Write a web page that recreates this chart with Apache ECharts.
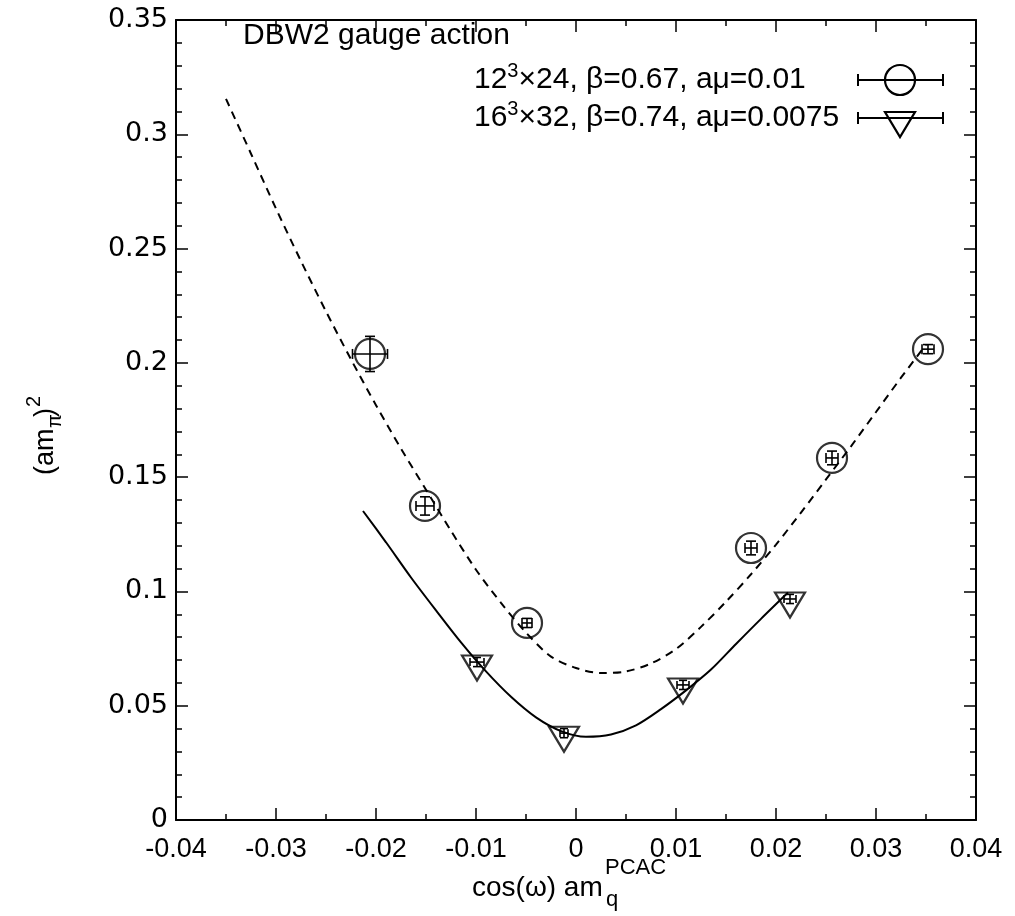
<!DOCTYPE html>
<html>
<head>
<meta charset="utf-8">
<script src="https://cdn.jsdelivr.net/npm/echarts@6/dist/echarts.min.js"></script>
<style>html,body{margin:0;padding:0;background:#fff;}#chart{width:1015px;height:916px;}</style>
</head>
<body>
<div id="chart"></div>
<script>
// ---- data ----
const xTicks = [-0.04, -0.03, -0.02, -0.01, 0, 0.01, 0.02, 0.03, 0.04];
const yTicks = [0, 0.05, 0.1, 0.15, 0.2, 0.25, 0.3, 0.35];

// 12^3x24, beta=0.67, amu=0.01 : x, y, xerr, yerr
const circX    = [-0.0206, -0.0151, -0.0049, 0.0175, 0.0256, 0.0352];
const circY    = [0.2039, 0.1374, 0.0862, 0.1190, 0.1584, 0.2060];
const circXErr = [0.00175, 0.0009, 0.0005, 0.0006, 0.0006, 0.0006];
const circYErr = [0.0077, 0.0040, 0.0020, 0.0030, 0.0030, 0.0020];

// 16^3x32, beta=0.74, amu=0.0075
const triX    = [-0.0099, -0.0012, 0.0107, 0.0214];
const triY    = [0.0691, 0.0380, 0.0591, 0.0967];
const triXErr = [0.0007, 0.0004, 0.0006, 0.0006];
const triYErr = [0.0020, 0.0020, 0.0020, 0.0020];

// fit curves
const fitDashX = [-0.035, -0.0325, -0.03, -0.0275, -0.025, -0.0225, -0.02, -0.0175, -0.015, -0.0125, -0.01, -0.0075, -0.005, -0.0025, 0, 0.0025, 0.005, 0.0075, 0.01, 0.0125, 0.015, 0.0175, 0.02, 0.0225, 0.025, 0.0275, 0.03, 0.0325, 0.035];
const fitDashY = [0.3155, 0.2915, 0.2675, 0.2445, 0.2225, 0.2015, 0.1815, 0.1625, 0.1445, 0.1265, 0.1095, 0.0950, 0.0820, 0.0715, 0.0665, 0.0643, 0.0650, 0.0685, 0.0748, 0.0845, 0.0955, 0.1075, 0.1205, 0.1345, 0.1490, 0.1635, 0.1785, 0.1935, 0.2080];

const fitSolidX = [-0.0213, -0.019, -0.0165, -0.014, -0.0115, -0.009, -0.0065, -0.004, -0.0015, 0.001, 0.0035, 0.006, 0.0085, 0.011, 0.0135, 0.016, 0.0185, 0.0212];
const fitSolidY = [0.1352, 0.1215, 0.1061, 0.0917, 0.0777, 0.0650, 0.0539, 0.0449, 0.0389, 0.0364, 0.0374, 0.0414, 0.0485, 0.0567, 0.0658, 0.0770, 0.0880, 0.0995];

// ---- build ----
const zip = (a, b) => a.map((v, i) => [v, b[i]]);
const circData = circX.map((v, i) => [v, circY[i], circXErr[i], circYErr[i]]);
const triData = triX.map((v, i) => [v, triY[i], triXErr[i], triYErr[i]]);

function errRender(cap) {
  return function (params, api) {
    const x = api.value(0), y = api.value(1), ex = api.value(2), ey = api.value(3);
    const l = api.coord([x - ex, y]), r = api.coord([x + ex, y]);
    const t = api.coord([x, y + ey]), b = api.coord([x, y - ey]);
    const st = { stroke: '#000', lineWidth: 1.6 };
    const c = cap;
    return {
      type: 'group',
      children: [
        { type: 'line', shape: { x1: l[0], y1: l[1], x2: r[0], y2: r[1] }, style: st },
        { type: 'line', shape: { x1: t[0], y1: t[1], x2: b[0], y2: b[1] }, style: st },
        { type: 'line', shape: { x1: l[0], y1: l[1] - c, x2: l[0], y2: l[1] + c }, style: st },
        { type: 'line', shape: { x1: r[0], y1: r[1] - c, x2: r[0], y2: r[1] + c }, style: st },
        { type: 'line', shape: { x1: t[0] - c, y1: t[1], x2: t[0] + c, y2: t[1] }, style: st },
        { type: 'line', shape: { x1: b[0] - c, y1: b[1], x2: b[0] + c, y2: b[1] }, style: st }
      ]
    };
  };
}

const triPath = 'path://M0,0 L30,0 L15,25 Z';
const FONT = "'Liberation Sans', Arial, Helvetica, sans-serif";

const chart = echarts.init(document.getElementById('chart'), null, { renderer: 'canvas' });

const xAxisBase = {
  type: 'value', min: -0.04, max: 0.04, interval: 0.01,
  axisLine: { show: true, onZero: false, lineStyle: { color: '#000', width: 2 } },
  axisTick: { show: true, inside: true, length: 12, lineStyle: { color: '#000', width: 1.5 } },
  minorTick: { show: true, splitNumber: 2, length: 6, lineStyle: { color: '#000', width: 1.5 } },
  splitLine: { show: false }, minorSplitLine: { show: false }
};
const yAxisBase = {
  type: 'value', min: 0, max: 0.35, interval: 0.05,
  axisLine: { show: true, onZero: false, lineStyle: { color: '#000', width: 2 } },
  axisTick: { show: true, inside: true, length: 12, lineStyle: { color: '#000', width: 1.5 } },
  minorTick: { show: true, splitNumber: 5, length: 6, lineStyle: { color: '#000', width: 1.5 } },
  splitLine: { show: false }, minorSplitLine: { show: false }
};

const supRich = {
  b: { fontSize: 30, fontFamily: FONT, color: '#000', verticalAlign: 'bottom' },
  s: { fontSize: 20, fontFamily: FONT, color: '#000', verticalAlign: 'bottom', padding: [0, 0, 13, 0] }
};

chart.setOption({
  animation: false,
  backgroundColor: '#fff',
  grid: { left: 176, right: 39, top: 20, bottom: 96, containLabel: false },
  xAxis: [
    Object.assign({}, xAxisBase, {
      position: 'bottom',
      axisLabel: { show: true, color: '#000', fontSize: 27, fontFamily: FONT, margin: 16,
        formatter: v => { const t = xTicks.find(k => Math.abs(k - v) < 1e-9); return t === undefined ? '' : String(t); } }
    }),
    Object.assign({}, xAxisBase, { position: 'top', axisLabel: { show: false } })
  ],
  yAxis: [
    Object.assign({}, yAxisBase, {
      position: 'left',
      axisLabel: { show: true, color: '#000', fontSize: 27, fontFamily: "'DejaVu Sans', sans-serif", margin: 8,
        formatter: v => { const t = yTicks.find(k => Math.abs(k - v) < 1e-9); return t === undefined ? '' : String(t); } }
    }),
    Object.assign({}, yAxisBase, { position: 'right', axisLabel: { show: false } })
  ],
  series: [
    {
      type: 'line', data: zip(fitDashX, fitDashY), smooth: 0.3, showSymbol: false,
      lineStyle: { color: '#000', width: 2, type: [8, 6] }, z: 2
    },
    {
      type: 'line', data: zip(fitSolidX, fitSolidY), smooth: 0.3, showSymbol: false,
      lineStyle: { color: '#000', width: 2, type: 'solid' }, z: 2
    },
    {
      type: 'custom', data: circData, renderItem: errRender(5), z: 3,
      encode: { x: 0, y: 1 }
    },
    {
      type: 'custom', data: triData, renderItem: errRender(4), z: 3,
      encode: { x: 0, y: 1 }
    },
    {
      type: 'scatter', data: circData.map(d => [d[0], d[1]]), symbol: 'circle', symbolSize: 30,
      itemStyle: { color: 'rgba(0,0,0,0)', borderColor: '#000', borderWidth: 2.2 }, z: 4
    },
    {
      type: 'scatter', data: triData.map(d => [d[0], d[1]]), symbol: triPath, symbolSize: [30, 25],
      symbolOffset: [0, 6], symbolKeepAspect: false,
      itemStyle: { color: 'rgba(0,0,0,0)', borderColor: '#000', borderWidth: 2.2 }, z: 4
    }
  ],
  graphic: [
    { type: 'text', x: 243, y: 36, style: { text: 'DBW2 gauge action', font: '30px ' + FONT, fill: '#000', verticalAlign: 'middle' } },
    { type: 'text', x: 474, y: 78, style: { text: '{b|12}{s|3}{b|×24, β=0.67, aμ=0.01}', rich: supRich, verticalAlign: 'middle' } },
    { type: 'text', x: 474, y: 116, style: { text: '{b|16}{s|3}{b|×32, β=0.74, aμ=0.0075}', rich: supRich, verticalAlign: 'middle' } },
    // legend keys
    { type: 'line', shape: { x1: 858, y1: 80, x2: 943, y2: 80 }, style: { stroke: '#000', lineWidth: 2 } },
    { type: 'line', shape: { x1: 858, y1: 74, x2: 858, y2: 86 }, style: { stroke: '#000', lineWidth: 2 } },
    { type: 'line', shape: { x1: 943, y1: 74, x2: 943, y2: 86 }, style: { stroke: '#000', lineWidth: 2 } },
    { type: 'circle', shape: { cx: 900, cy: 80, r: 15 }, style: { fill: 'rgba(0,0,0,0)', stroke: '#000', lineWidth: 2.2 } },
    { type: 'line', shape: { x1: 858, y1: 118, x2: 943, y2: 118 }, style: { stroke: '#000', lineWidth: 2 } },
    { type: 'line', shape: { x1: 858, y1: 112, x2: 858, y2: 124 }, style: { stroke: '#000', lineWidth: 2 } },
    { type: 'line', shape: { x1: 943, y1: 112, x2: 943, y2: 124 }, style: { stroke: '#000', lineWidth: 2 } },
    { type: 'polygon', shape: { points: [[885, 112], [915, 112], [900, 137]] }, style: { fill: 'rgba(0,0,0,0)', stroke: '#000', lineWidth: 2.2 } },
    // axis titles
    { type: 'text', x: 472, y: 888, style: { text: 'cos(ω) am', font: '28px ' + FONT, fill: '#000', verticalAlign: 'middle' } },
    { type: 'text', x: 605, y: 868, style: { text: 'PCAC', font: '22px ' + FONT, fill: '#000', verticalAlign: 'middle' } },
    { type: 'text', x: 606, y: 900, style: { text: 'q', font: '22px ' + FONT, fill: '#000', verticalAlign: 'middle' } },
    { type: 'group', x: 46, y: 431, rotation: Math.PI / 2, children: [
        { type: 'text', x: -44, y: 0, style: { text: '(am', font: '27px ' + FONT, fill: '#000', verticalAlign: 'middle' } },
        { type: 'text', x: 3, y: 9, style: { text: 'π', font: '20px ' + FONT, fill: '#000', verticalAlign: 'middle' } },
        { type: 'text', x: 14, y: 0, style: { text: ')', font: '27px ' + FONT, fill: '#000', verticalAlign: 'middle' } },
        { type: 'text', x: 24, y: -12, style: { text: '2', font: '20px ' + FONT, fill: '#000', verticalAlign: 'middle' } }
    ] }
  ]
});
</script>
</body>
</html>
